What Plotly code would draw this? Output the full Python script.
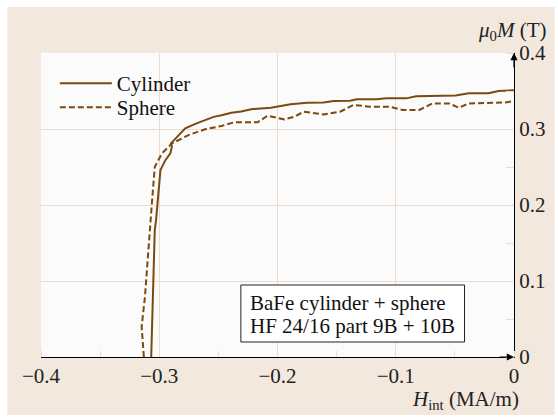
import plotly.graph_objects as go

# Data
cyl_H = [-0.3068, -0.3055, -0.3045, -0.3038, -0.3027, -0.3010, -0.2990, -0.2948, -0.2906,
         -0.2893, -0.2901, -0.2823, -0.2780, -0.2690, -0.2613, -0.2540, -0.2474, -0.2390,
         -0.2307, -0.2223, -0.2056, -0.1889, -0.1749, -0.1610, -0.1526, -0.1386, -0.1330,
         -0.1163, -0.1080, -0.0912, -0.0828, -0.0494, -0.0382, -0.0215, -0.0131, 0.0]
cyl_M = [0.0, 0.06, 0.12, 0.167, 0.18, 0.207, 0.246, 0.259, 0.268,
         0.277, 0.281, 0.294, 0.301, 0.307, 0.312, 0.316, 0.318, 0.3215,
         0.323, 0.326, 0.328, 0.3325, 0.3346, 0.335, 0.3368, 0.3372, 0.339,
         0.339, 0.3403, 0.3403, 0.343, 0.344, 0.347, 0.347, 0.350, 0.351]

sph_H = [-0.3130, -0.3149, -0.3121, -0.3102, -0.3080, -0.3060, -0.3038, -0.2977, -0.2893,
         -0.2753, -0.2613, -0.2530, -0.2474, -0.2362, -0.2167, -0.2084, -0.1944, -0.1860,
         -0.1777, -0.1610, -0.1470, -0.1358, -0.1219, -0.1052, -0.0940, -0.0800, -0.0689,
         -0.0550, -0.0466, -0.0382, -0.0215, -0.0075, 0.0]
sph_M = [0.0, 0.04, 0.079, 0.123, 0.167, 0.207, 0.250, 0.268, 0.281,
         0.292, 0.2996, 0.3017, 0.304, 0.309, 0.309, 0.3175, 0.3127, 0.316,
         0.3228, 0.319, 0.3228, 0.3316, 0.3294, 0.3294, 0.325, 0.325, 0.3337,
         0.3337, 0.328, 0.3337, 0.3346, 0.335, 0.3368]

x_ticks = [-0.4, -0.3, -0.2, -0.1, 0]
x_ticklabels = ["\u22120.4", "\u22120.3", "\u22120.2", "\u22120.1", "0"]
y_ticks = [0, 0.1, 0.2, 0.3, 0.4]
y_ticklabels = ["0", "0.1", "0.2", "0.3", "0.4"]
box_lines = ["BaFe cylinder + sphere", "HF 24/16 part 9B + 10B"]

BROWN = "#7a4a0e"
BEIGE = "#f3e8de"
GRID = "#eedccb"
FONT = "Liberation Serif"
FS = 21

fig = go.Figure()
fig.add_trace(go.Scatter(x=cyl_H, y=cyl_M, mode="lines", name="Cylinder", legend="legend",
                         line=dict(color=BROWN, width=2)))
fig.add_trace(go.Scatter(x=sph_H, y=sph_M, mode="lines", name="Sphere", legend="legend2",
                         line=dict(color=BROWN, width=2, dash="6px,3px")))

W, H = 558, 417
L, R, T, B = 41, 39, 53, 60
pw, ph = W - L - R, H - T - B

def px2paper_x(px):
    return (px - L) / pw

def py2paper_y(py):
    return (H - B - py) / ph

fig.add_shape(type="rect", xref="paper", yref="paper", layer="below",
              x0=px2paper_x(7), x1=px2paper_x(560), y0=py2paper_y(415), y1=py2paper_y(7),
              fillcolor=BEIGE, line=dict(width=0))
fig.add_shape(type="rect", xref="paper", yref="paper", layer="below",
              x0=0, x1=1, y0=0, y1=1, fillcolor="#fbfbfb", line=dict(width=0))

fig.update_xaxes(range=[-0.4, 0], tickvals=x_ticks, ticktext=x_ticklabels,
                 showgrid=True, gridcolor=GRID, gridwidth=1, zeroline=False,
                 showline=True, linecolor="black", linewidth=1.2, ticks="",
                 tickfont=dict(family=FONT, size=FS, color="#222"),
                 minor=dict(dtick=0.05, tick0=0, ticks="inside", ticklen=6, tickcolor=GRID,
                            showgrid=False),
                 fixedrange=True)
fig.update_yaxes(range=[0, 0.4], tickvals=y_ticks, ticktext=y_ticklabels, side="right",
                 showgrid=True, gridcolor=GRID, gridwidth=1, zeroline=False,
                 showline=True, linecolor="black", linewidth=1.2, ticks="",
                 tickfont=dict(family=FONT, size=FS, color="#222"),
                 minor=dict(dtick=0.05, tick0=0, ticks="inside", ticklen=8, tickcolor=GRID,
                            showgrid=False),
                 fixedrange=True)

# axis arrows
fig.add_annotation(x=0, y=0.4, xref="x", yref="y", ax=0, ay=16,
                   text="", showarrow=True, arrowhead=2, arrowsize=1.2, arrowwidth=1.2,
                   arrowcolor="black")
fig.add_annotation(x=0, y=0, xref="x", yref="y", ax=-16, ay=0,
                   text="", showarrow=True, arrowhead=2, arrowsize=1.2, arrowwidth=1.2,
                   arrowcolor="black")

# axis titles
fig.add_annotation(x=px2paper_x(553), y=py2paper_y(31), xref="paper", yref="paper",
                   xanchor="right", yanchor="middle", showarrow=False,
                   text="<i>\u03bc</i><sub>0</sub><i>M</i> (T)",
                   font=dict(family=FONT, size=FS, color="#222"))
fig.add_annotation(x=px2paper_x(526), y=py2paper_y(400), xref="paper", yref="paper",
                   xanchor="right", yanchor="middle", showarrow=False,
                   text="<i>H</i><sub>int</sub> (MA/m)",
                   font=dict(family=FONT, size=FS, color="#222"))

# info box
fig.add_shape(type="rect", xref="paper", yref="paper", layer="above",
              x0=px2paper_x(243), x1=px2paper_x(469), y0=py2paper_y(342), y1=py2paper_y(285),
              fillcolor="white", line=dict(color="#222", width=1))
for i, txt in enumerate(box_lines):
    fig.add_annotation(x=px2paper_x(250), y=py2paper_y(303 + 23 * i), xref="paper", yref="paper",
                       xanchor="left", yanchor="middle", showarrow=False, align="left",
                       text=txt, font=dict(family=FONT, size=FS, color="#111"))

leg_common = dict(xanchor="left", yanchor="top", bgcolor="rgba(0,0,0,0)", borderwidth=0,
                  itemwidth=52, font=dict(family=FONT, size=FS, color="#111"))
fig.update_layout(
    width=W, height=H,
    margin=dict(l=L, r=R, t=T, b=B, pad=0),
    paper_bgcolor="white", plot_bgcolor="rgba(0,0,0,0)",
    font=dict(family=FONT, size=FS, color="#222"),
    showlegend=True,
    legend=dict(x=px2paper_x(55), y=py2paper_y(63), **leg_common),
    legend2=dict(x=px2paper_x(55), y=py2paper_y(87), **leg_common),
)

fig.write_html("out.html")
